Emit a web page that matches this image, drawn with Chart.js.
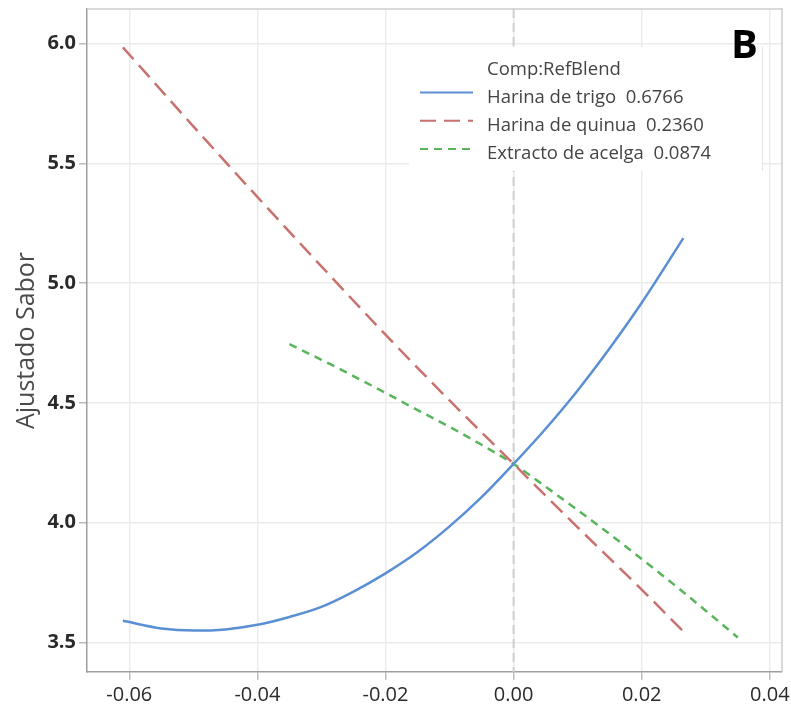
<!DOCTYPE html>
<html>
<head>
<meta charset="utf-8">
<script src="https://cdn.jsdelivr.net/npm/chart.js@4.4.1/dist/chart.umd.min.js"></script>
<style>
  html, body { margin: 0; padding: 0; background: #fff; }
</style>
</head>
<body>
<canvas id="sensoryChart" width="791" height="708"></canvas>
<script>
// response trace: Ajustado Sabor vs deviation from reference blend
const legendTitle = 'Comp:RefBlend';
const seriesNames = ['Harina de trigo', 'Harina de quinua', 'Extracto de acelga'];
const refBlend = ['0.6766', '0.2360', '0.0874'];

const trigoX = [-0.061, -0.055, -0.05, -0.045, -0.04, -0.035, -0.03, -0.025, -0.02, -0.015, -0.01, -0.005, 0, 0.005, 0.01, 0.015, 0.02, 0.0265];
const trigoY = [3.590, 3.558, 3.549, 3.554, 3.573, 3.606, 3.648, 3.712, 3.788, 3.877, 3.984, 4.106, 4.245, 4.392, 4.552, 4.728, 4.918, 5.188];

const quinuaX = [-0.061, -0.05, -0.04, -0.03, -0.02, -0.01, 0, 0.01, 0.02, 0.0265];
const quinuaY = [5.985, 5.655, 5.360, 5.070, 4.785, 4.510, 4.245, 3.980, 3.720, 3.545];

const acelgaX = [-0.035, -0.03, -0.025, -0.02, -0.015, -0.01, -0.005, 0, 0.005, 0.01, 0.015, 0.02, 0.025, 0.03, 0.035];
const acelgaY = [4.745, 4.680, 4.612, 4.542, 4.470, 4.400, 4.325, 4.245, 4.150, 4.052, 3.952, 3.848, 3.742, 3.632, 3.520];

const xTicks = [-0.06, -0.04, -0.02, 0, 0.02, 0.04];
const yTicks = [3.5, 4.0, 4.5, 5.0, 5.5, 6.0];

const toPoints = (xs, ys) => xs.map((x, i) => ({ x: x, y: ys[i] }));

const colors = ['#5a8fd3', '#c8716d', '#58b55c'];
const dashes = [[], [16, 8], [8, 6]];

const refLinePlugin = {
    id: 'refLine',
    beforeDatasetsDraw(chart) {
        const ctx = chart.ctx;
        const area = chart.chartArea;
        const x0 = chart.scales.x.getPixelForValue(0);
        ctx.save();
        ctx.strokeStyle = '#cfcfcf';
        ctx.lineWidth = 2;
        ctx.setLineDash([9, 5]);
        ctx.beginPath();
        ctx.moveTo(x0, area.top);
        ctx.lineTo(x0, area.bottom);
        ctx.stroke();
        ctx.restore();
    }
};

const legendPlugin = {
    id: 'refBlendLegend',
    afterDraw(chart) {
        const ctx = chart.ctx;
        const area = chart.chartArea;
        ctx.save();
        // light frame on top / right
        ctx.strokeStyle = '#cdcdcd';
        ctx.lineWidth = 1.5;
        ctx.beginPath();
        ctx.moveTo(area.left, area.top);
        ctx.lineTo(area.right, area.top);
        ctx.lineTo(area.right, area.bottom);
        ctx.stroke();

        // legend box
        ctx.fillStyle = '#fff';
        ctx.fillRect(409, 47, 353, 124);
        ctx.strokeStyle = '#e4e4e4';
        ctx.lineWidth = 1;
        ctx.beginPath();
        ctx.moveTo(762.5, 47);
        ctx.lineTo(762.5, 171);
        ctx.stroke();

        ctx.font = '18.5px "Open Sans"';
        ctx.fillStyle = '#444';
        ctx.textBaseline = 'alphabetic';
        ctx.fillText(legendTitle, 487, 75);
        chart.data.datasets.forEach((ds, i) => {
            const y = 102.5 + i * 28.3;
            ctx.strokeStyle = ds.borderColor;
            ctx.lineWidth = 2;
            ctx.setLineDash(dashes[i]);
            ctx.beginPath();
            ctx.moveTo(420, y - 10);
            ctx.lineTo(473, y - 10);
            ctx.stroke();
            ctx.setLineDash([]);
            ctx.fillText(ds.label, 487, y);
        });

        ctx.font = 'bold 40px "Open Sans"';
        ctx.fillStyle = '#000';
        ctx.fillText('B', 731, 58);
        ctx.restore();
    }
};

const ctx = document.getElementById('sensoryChart').getContext('2d');
new Chart(ctx, {
    type: 'line',
    data: {
        datasets: [
            {
                label: seriesNames[0] + '  ' + refBlend[0],
                data: toPoints(trigoX, trigoY),
                borderColor: colors[0],
                borderWidth: 2.5,
                borderDash: dashes[0]
            },
            {
                label: seriesNames[1] + '  ' + refBlend[1],
                data: toPoints(quinuaX, quinuaY),
                borderColor: colors[1],
                borderWidth: 2.5,
                borderDash: dashes[1]
            },
            {
                label: seriesNames[2] + '  ' + refBlend[2],
                data: toPoints(acelgaX, acelgaY),
                borderColor: colors[2],
                borderWidth: 2.5,
                borderDash: dashes[2]
            }
        ]
    },
    options: {
        responsive: false,
        animation: false,
        events: [],
        elements: {
            point: { radius: 0 },
            line: { cubicInterpolationMode: 'monotone', fill: false }
        },
        layout: {
            padding: { top: 9, right: 9, left: 0, bottom: 0 }
        },
        plugins: {
            legend: { display: false },
            title: { display: false },
            tooltip: { enabled: false }
        },
        scales: {
            x: {
                type: 'linear',
                min: -0.0666,
                max: 0.0419,
                afterBuildTicks: (axis) => { axis.ticks = xTicks.map(v => ({ value: v })); },
                afterFit: (axis) => {
                    axis.height = 36;
                    axis.paddingLeft = 0;
                    axis.paddingRight = 0;
                },
                grid: { color: '#ebebeb', lineWidth: 1.5, tickLength: 8, tickColor: '#bdbdbd' },
                border: { color: '#9e9e9e', width: 1.5 },
                ticks: {
                    padding: 3,
                    color: '#2a2a2a',
                    font: { family: 'Open Sans', size: 20 },
                    maxRotation: 0,
                    callback: (v) => v.toFixed(2)
                }
            },
            y: {
                type: 'linear',
                min: 3.376,
                max: 6.145,
                afterBuildTicks: (axis) => { axis.ticks = yTicks.map(v => ({ value: v })); },
                afterFit: (axis) => {
                    axis.width = 87;
                    axis.paddingTop = 0;
                    axis.paddingBottom = 0;
                },
                grid: { color: '#ebebeb', lineWidth: 1.5, tickLength: 8, tickColor: '#bdbdbd' },
                border: { color: '#9e9e9e', width: 1.5 },
                title: {
                    display: true,
                    text: 'Ajustado Sabor',
                    color: '#4a4a4a',
                    font: { family: 'Open Sans', size: 25 },
                    padding: { top: 12, bottom: 0 }
                },
                ticks: {
                    padding: 3,
                    color: '#2a2a2a',
                    font: { family: 'Open Sans', size: 20, weight: 'bold' },
                    callback: (v) => v.toFixed(1)
                }
            }
        }
    },
    plugins: [refLinePlugin, legendPlugin]
});
</script>
</body>
</html>
